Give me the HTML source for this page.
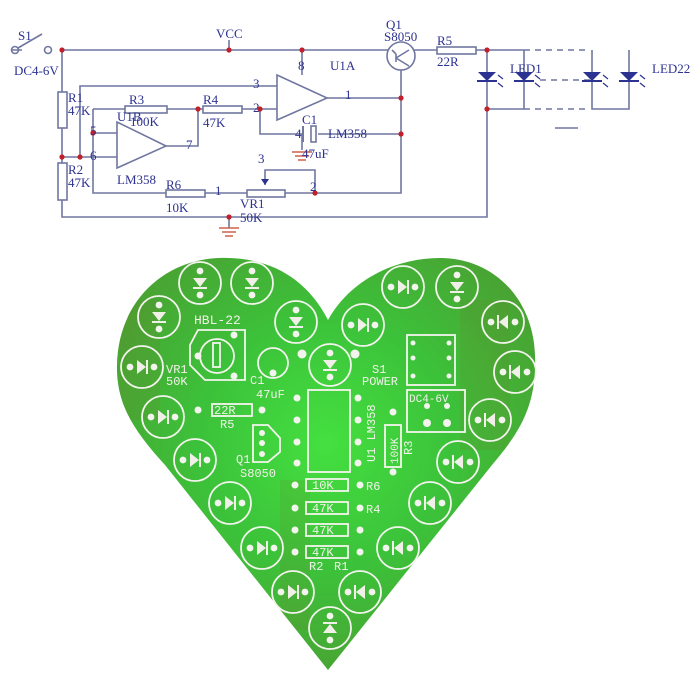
<!DOCTYPE html>
<html><head><meta charset="utf-8"><style>
html,body{margin:0;padding:0;background:#fff;width:700px;height:700px;overflow:hidden}
svg{display:block}
.w{stroke:#7077a0;stroke-width:1.6;fill:none}
.t{font-family:"Liberation Serif",serif;font-size:13px;fill:#2c3290}
.d{fill:#c0202a}
.s{fill:none;stroke:#f4f4ee;stroke-width:1.8}
.st{font-family:"Liberation Mono",monospace;fill:#f2f2ea;font-size:12px}
</style></head><body>
<svg width="700" height="700" viewBox="0 0 700 700" xmlns="http://www.w3.org/2000/svg">
<defs>
<radialGradient id="g1" cx="0.5" cy="0.45" r="0.6"><stop offset="0" stop-color="#44e040"/><stop offset="0.5" stop-color="#3cc23a"/><stop offset="1" stop-color="#4aa032"/></radialGradient>
<path id="hp" d="M328,320 C305,275 265,256 218,258 C160,261 118,305 117,365 C116,405 135,432 165,465 L328,670 L492,465 C520,432 537,405 535,355 C533,297 492,258 440,258 C395,258 350,280 328,320 Z"/>
<clipPath id="hc"><use href="#hp"/></clipPath>
<g id="led"><circle r="21" fill="#46ad36" class="s"/><circle cx="0" cy="-12" r="3.4" fill="#f4f4ee"/><circle cx="0" cy="12" r="3.4" fill="#f4f4ee"/><path d="M-7,-5 L7,-5 L0,4 Z" fill="#f0f0e8"/><line x1="-7" y1="5" x2="7" y2="5" stroke="#f0f0e8" stroke-width="2"/></g>
<g id="sled"><path d="M-9,-5 L9,-5 L0,4 Z" fill="#2c3290"/><line x1="-10" y1="4" x2="10" y2="4" stroke="#2c3290" stroke-width="2"/><path d="M11,-2 l5,4 M11,6 l5,4" stroke="#2c3290" stroke-width="1.2"/></g>
</defs>
<path class="w" d="M22,50 H12 M62,50 H392 M414,50 H437 M476,50 H524 M62,50 V92 M62,128 V163 M62,200 V217 H487 V109 M62,157 H117 M80,157 V86 H277 M93,109 V193 H166 M205,193 H247 M285,193 H401 V65 M93,109 H125 M167,109 H203 M242,109 H277 M93,133 H117 M166,146 H198 V109 M260,109 V134 H303 M318,134 H401 M302,50 V75 M327,98 H401 M302,134 V150 M265,185 V170 H315 V193 M229,40 V50 M229,217 V228 M487,50 V109 H524 V50 M592,50 V109 H629 V50"/>
<path d="M524,50 H590 M540,80 H590 M524,109 H590" stroke="#7077a0" stroke-width="1.4" stroke-dasharray="6,5"/>
<line x1="555" y1="128" x2="578" y2="128" stroke="#7077a0" stroke-width="1.6"/>
<circle cx="15" cy="50" r="3.5" class="w" fill="#fff"/><circle cx="48" cy="50" r="3.5" class="w" fill="#fff"/>
<line x1="18" y1="48" x2="42" y2="34" class="w"/>
<g fill="#fff" stroke="#7077a0" stroke-width="1.6">
<rect x="58" y="92" width="9" height="36"/><rect x="58" y="163" width="9" height="37"/>
<rect x="125" y="106" width="42" height="7"/><rect x="203" y="106" width="39" height="7"/>
<rect x="166" y="190" width="39" height="7"/><rect x="247" y="190" width="38" height="7"/>
<rect x="437" y="47" width="39" height="7"/>
<path d="M277,75 L277,120 L327,98 Z"/><path d="M117,122 L117,168 L166,146 Z"/>
<circle cx="401" cy="56" r="14"/>
</g>
<path d="M265,185 l-4,-6 h8 z" fill="#2c3290"/>
<path d="M392,50 L396,54 M396,54 L396,62 M396,58 L409,50 M396,58 L409,66" stroke="#7077a0" stroke-width="1.6" fill="none"/>
<line x1="303" y1="126" x2="303" y2="142" stroke="#7077a0" stroke-width="2"/>
<rect x="311" y="126" width="5" height="16" fill="#fff" stroke="#7077a0" stroke-width="1.6"/>
<g stroke="#d0604a" stroke-width="1.4"><path d="M292,152 H312 M295,156 H309 M298,160 H306 M219,228 H239 M222,232 H236 M225,236 H233"/></g>
<g class="d"><circle cx="62" cy="50" r="2.6"/><circle cx="229" cy="50" r="2.6"/><circle cx="302" cy="50" r="2.6"/><circle cx="62" cy="157" r="2.6"/><circle cx="80" cy="157" r="2.6"/><circle cx="93" cy="133" r="2.6"/><circle cx="198" cy="109" r="2.6"/><circle cx="260" cy="109" r="2.6"/><circle cx="315" cy="193" r="2.6"/><circle cx="229" cy="217" r="2.6"/><circle cx="401" cy="98" r="2.6"/><circle cx="401" cy="134" r="2.6"/><circle cx="487" cy="50" r="2.6"/><circle cx="487" cy="109" r="2.6"/></g>
<use href="#sled" x="487" y="77"/><use href="#sled" x="524" y="77"/><use href="#sled" x="592" y="77"/><use href="#sled" x="629" y="77"/>
<g class="t">
<text x="18" y="40">S1</text><text x="14" y="75">DC4-6V</text><text x="216" y="38">VCC</text>
<text x="68" y="102">R1</text><text x="68" y="115">47K</text><text x="68" y="174">R2</text><text x="68" y="187">47K</text>
<text x="129" y="104">R3</text><text x="117" y="121">U1B</text><text x="130" y="126">100K</text>
<text x="203" y="104">R4</text><text x="203" y="127">47K</text>
<text x="253" y="88">3</text><text x="253" y="112">2</text><text x="90" y="135">5</text><text x="90" y="160">6</text><text x="186" y="149">7</text>
<text x="298" y="70">8</text><text x="330" y="70">U1A</text><text x="345" y="99">1</text>
<text x="302" y="124">C1</text><text x="295" y="138">4</text><text x="328" y="138">LM358</text><text x="302" y="158">47uF</text>
<text x="117" y="184">LM358</text><text x="166" y="189">R6</text><text x="166" y="212">10K</text><text x="215" y="195">1</text>
<text x="258" y="163">3</text><text x="310" y="191">2</text><text x="240" y="208">VR1</text><text x="240" y="222">50K</text>
<text x="386" y="29">Q1</text><text x="384" y="41">S8050</text><text x="437" y="45">R5</text><text x="437" y="66">22R</text>
<text x="510" y="73">LED1</text><text x="652" y="73">LED22</text>
</g>
<use href="#hp" fill="url(#g1)"/>
<g fill="#7a6a2a" opacity="0.12" clip-path="url(#hc)"><rect x="120" y="300" width="40" height="120"/><rect x="460" y="300" width="50" height="150"/><rect x="280" y="480" width="30" height="150"/></g>
<g>
<use href="#led" transform="translate(200,283)"/><use href="#led" transform="translate(252,283)"/><use href="#led" transform="translate(159,317)"/><use href="#led" transform="translate(296,322)"/>
<use href="#led" transform="translate(142,367) rotate(-90)"/><use href="#led" transform="translate(163,417) rotate(-90)"/><use href="#led" transform="translate(195,460) rotate(-90)"/><use href="#led" transform="translate(230,503) rotate(-90)"/>
<use href="#led" transform="translate(262,548) rotate(-90)"/><use href="#led" transform="translate(293,592) rotate(-90)"/><use href="#led" transform="translate(330,365)"/><use href="#led" transform="translate(330,628) rotate(180)"/>
<use href="#led" transform="translate(403,287) rotate(-90)"/><use href="#led" transform="translate(457,287)"/><use href="#led" transform="translate(363,325) rotate(-90)"/><use href="#led" transform="translate(503,322) rotate(90)"/>
<use href="#led" transform="translate(515,372) rotate(90)"/><use href="#led" transform="translate(490,420) rotate(90)"/><use href="#led" transform="translate(458,462) rotate(90)"/><use href="#led" transform="translate(430,503) rotate(90)"/>
<use href="#led" transform="translate(398,548) rotate(90)"/><use href="#led" transform="translate(360,592) rotate(90)"/>
</g>
<path class="s" d="M198,330 H245 V380 H205 L190,365 V345 Z"/>
<circle cx="217" cy="356" r="17" class="s"/><rect x="213" y="343" width="7" height="24" class="s"/>
<circle cx="273" cy="363" r="15" class="s"/>
<rect x="308" y="390" width="42" height="82" class="s"/>
<path class="s" d="M253,425 H268 L280,438 V452 L268,462 H253 Z"/>
<rect x="407" y="335" width="48" height="50" class="s"/>
<rect x="407" y="390" width="58" height="42" class="s"/>
<rect x="212" y="404" width="40" height="12" class="s"/>
<rect x="385" y="425" width="16" height="42" class="s"/>
<g class="s"><rect x="306" y="479" width="42" height="12"/><rect x="306" y="502" width="42" height="12"/><rect x="306" y="524" width="42" height="12"/><rect x="306" y="546" width="42" height="12"/></g>
<g fill="#f4f4ee">
<circle cx="297" cy="398" r="3.5"/><circle cx="297" cy="420" r="3.5"/><circle cx="297" cy="442" r="3.5"/><circle cx="297" cy="463" r="3.5"/>
<circle cx="358" cy="398" r="3.5"/><circle cx="358" cy="420" r="3.5"/><circle cx="358" cy="442" r="3.5"/><circle cx="358" cy="463" r="3.5"/>
<circle cx="295" cy="485" r="3.5"/><circle cx="360" cy="485" r="3.5"/><circle cx="295" cy="508" r="3.5"/><circle cx="360" cy="508" r="3.5"/>
<circle cx="295" cy="530" r="3.5"/><circle cx="360" cy="530" r="3.5"/><circle cx="295" cy="552" r="3.5"/><circle cx="360" cy="552" r="3.5"/>
<circle cx="198" cy="410" r="3.5"/><circle cx="262" cy="410" r="3.5"/><circle cx="393" cy="412" r="3.5"/><circle cx="393" cy="472" r="3.5"/>
<circle cx="262" cy="433" r="3"/><circle cx="262" cy="443" r="3"/><circle cx="262" cy="454" r="3"/>
<circle cx="273" cy="373" r="3.5"/><circle cx="302" cy="354" r="4.5"/><circle cx="355" cy="354" r="4.5"/>
<circle cx="234" cy="335" r="3.5"/><circle cx="198" cy="356" r="3.5"/><circle cx="234" cy="376" r="3.5"/>
<circle cx="413" cy="343" r="2.5"/><circle cx="449" cy="343" r="2.5"/><circle cx="413" cy="358" r="2.5"/><circle cx="449" cy="358" r="2.5"/><circle cx="413" cy="376" r="2.5"/><circle cx="449" cy="376" r="2.5"/>
<circle cx="427" cy="406" r="3"/><circle cx="447" cy="406" r="3"/><circle cx="427" cy="423" r="4"/><circle cx="447" cy="423" r="4"/>
</g>
<g class="st">
<text x="194" y="324" font-size="13">HBL-22</text>
<text x="166" y="373">VR1</text><text x="166" y="385">50K</text>
<text x="250" y="384">C1</text><text x="256" y="398">47uF</text>
<text x="214" y="414">22R</text><text x="220" y="428">R5</text>
<text x="236" y="463">Q1</text><text x="240" y="477">S8050</text>
<text x="372" y="373">S1</text><text x="362" y="385">POWER</text>
<text x="409" y="402" font-size="11">DC4-6V</text>
<text x="312" y="489">10K</text><text x="312" y="512">47K</text><text x="312" y="534">47K</text><text x="312" y="556">47K</text>
<text x="366" y="490">R6</text><text x="366" y="513">R4</text><text x="309" y="570">R2</text><text x="334" y="570">R1</text>
<text transform="translate(375,462) rotate(-90)">U1 LM358</text>
<text transform="translate(398,464) rotate(-90)" font-size="11">100K</text>
<text transform="translate(412,455) rotate(-90)">R3</text>
</g>
</svg>
</body></html>
